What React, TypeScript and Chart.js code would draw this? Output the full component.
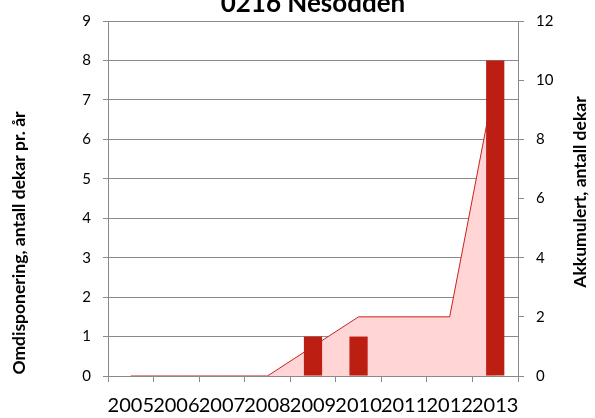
import React, { useEffect, useRef } from "react";
import { Chart, registerables } from "chart.js";

Chart.register(...registerables);

const categories = ["2005", "2006", "2007", "2008", "2009", "2010", "2011", "2012", "2013"];
const annualValues = [0, 0, 0, 0, 1, 1, 0, 0, 8];
const cumulativeValues = [0, 0, 0, 0, 1, 2, 2, 2, 10];
const chartTitle = "0216 Nesodden";
const leftAxisTitle = "Omdisponering, antall dekar pr. år";
const rightAxisTitle = "Akkumulert, antall dekar";

const FONT = "Lato";
const GRID = "#8a8a8a";

const textPlugin = {
  id: "customText",
  afterDraw(chart: any) {
    const ctx = chart.ctx;
    ctx.save();
    ctx.fillStyle = "#000";
    ctx.font = `bold 26px ${FONT}`;
    ctx.textAlign = "center";
    ctx.textBaseline = "alphabetic";
    ctx.fillText(chartTitle, 313, 12);
    ctx.font = `bold 17.5px ${FONT}`;
    ctx.textBaseline = "middle";
    ctx.save();
    ctx.translate(19, 243);
    ctx.rotate(-Math.PI / 2);
    ctx.fillText(leftAxisTitle, 0, 0);
    ctx.restore();
    ctx.save();
    ctx.translate(580, 192);
    ctx.rotate(-Math.PI / 2);
    ctx.fillText(rightAxisTitle, 0, 0);
    ctx.restore();
    ctx.restore();
  },
};

export default function App() {
  const ref = useRef<HTMLCanvasElement>(null);
  useEffect(() => {
    if (!ref.current) return;
    const chart = new Chart(ref.current, {
      type: "bar",
      data: {
        labels: categories,
        datasets: [
          {
            type: "bar",
            label: "Omdisponering",
            data: annualValues,
            backgroundColor: "#BD1E12",
            borderWidth: 0,
            yAxisID: "y",
            order: 1,
            categoryPercentage: 1,
            barPercentage: 0.4,
          } as any,
          {
            type: "line",
            label: "Akkumulert",
            data: cumulativeValues,
            borderColor: "#C8231C",
            borderWidth: 1,
            backgroundColor: "rgba(255,213,213,1)",
            fill: "origin",
            pointRadius: 0,
            tension: 0,
            yAxisID: "y1",
            order: 2,
          } as any,
        ],
      },
      options: {
        responsive: false,
        animation: false,
        layout: { padding: { top: 17, left: 0, right: 0, bottom: 0 } },
        plugins: {
          legend: { display: false },
          title: { display: false },
          tooltip: { enabled: false },
        },
        scales: {
          x: {
            offset: true,
            grid: {
              offset: true,
              drawOnChartArea: false,
              drawTicks: true,
              tickLength: 6,
              color: GRID,
            },
            border: { color: GRID },
            ticks: {
              autoSkip: false,
              maxRotation: 0,
              minRotation: 0,
              color: "#000",
              font: { family: FONT, size: 20 },
              padding: 12,
            },
            afterFit: (s: any) => {
              s.height = 42;
            },
          },
          y: {
            position: "left",
            min: 0,
            max: 9,
            ticks: {
              stepSize: 1,
              color: "#000",
              font: { family: FONT, size: 15 },
              padding: 12,
            },
            grid: { color: GRID, tickLength: 5 },
            border: { color: GRID },
            afterFit: (s: any) => {
              s.width = 108;
            },
          },
          y1: {
            position: "right",
            min: 0,
            max: 12,
            ticks: {
              stepSize: 2,
              color: "#000",
              font: { family: FONT, size: 15 },
              padding: 12,
            },
            grid: { drawOnChartArea: false, color: GRID, tickLength: 6 },
            border: { color: GRID },
            afterFit: (s: any) => {
              s.width = 77;
            },
          },
        },
      },
      plugins: [textPlugin],
    });
    return () => chart.destroy();
  }, []);
  return (
    <div style={{ position: "absolute", left: 0, top: 0, width: 595, height: 418 }}>
      <canvas ref={ref} width={595} height={418} />
    </div>
  );
}
